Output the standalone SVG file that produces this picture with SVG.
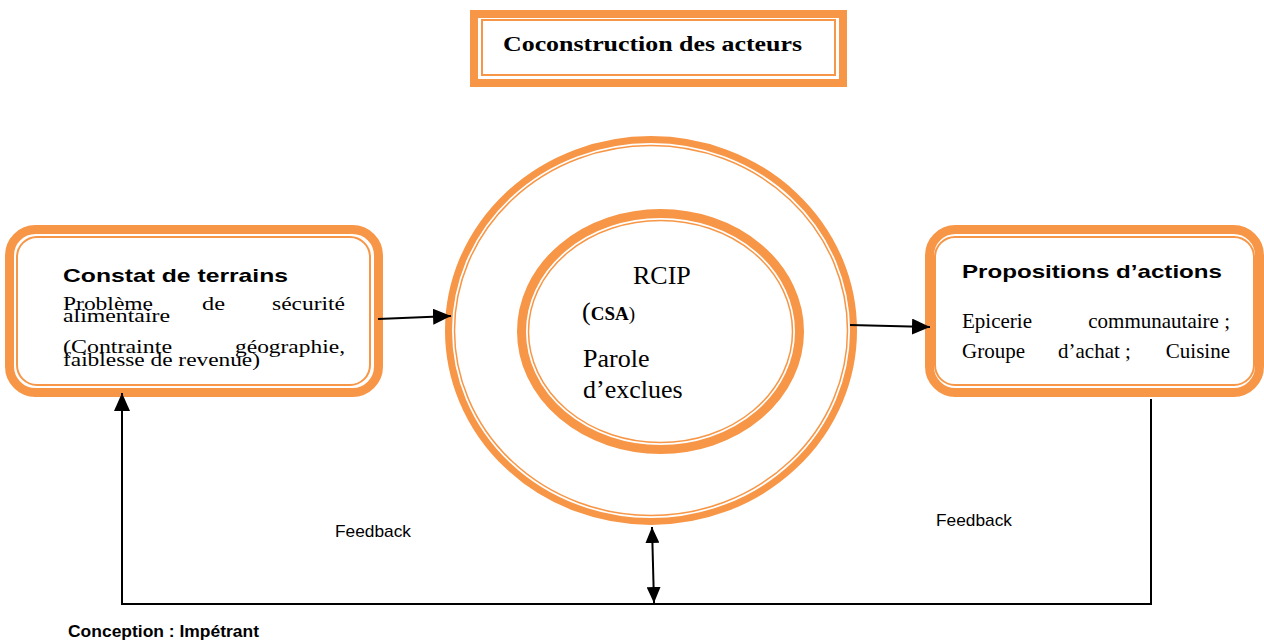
<svg xmlns="http://www.w3.org/2000/svg" width="1264" height="642" viewBox="0 0 1264 642">
  <defs>
    <style>
      .band { fill: none; stroke: #F79646; }
      .thick { stroke-width: 9; }
      .thin { stroke-width: 2; }
      .serif { font-family: "Liberation Serif", "Times New Roman", serif; fill: #000; }
      .sans { font-family: "Liberation Sans", Arial, sans-serif; fill: #000; }
      .head { font-family: "Liberation Sans", Arial, sans-serif; font-weight: bold; font-size: 19px; fill: #000; }
      .body { font-size: 19px; }
      .prop { font-size: 21px; }
      .circ { font-size: 26px; }
      .link { fill: none; stroke: #000; stroke-width: 2; }
      .note { font-size: 17px; }
    </style>
    <marker id="arrow" markerUnits="userSpaceOnUse" markerWidth="18" markerHeight="16" refX="18" refY="8" orient="auto-start-reverse">
      <path d="M0,0 L18,8 L0,16 z" fill="#000"/>
    </marker>
    <marker id="arrowSmall" markerUnits="userSpaceOnUse" markerWidth="16" markerHeight="14" refX="16" refY="7" orient="auto-start-reverse">
      <path d="M0,0 L16,7 L0,14 z" fill="#000"/>
    </marker>
  </defs>

  <rect width="1264" height="642" fill="#fff"/>

  <!-- Title banner -->
  <g id="title">
    <rect class="band" x="474" y="14" width="369" height="69" stroke-width="8"/>
    <rect class="band thin" x="482" y="20" width="353" height="55"/>
    <text class="serif" x="503" y="51" font-size="20" font-weight="bold" textLength="299" lengthAdjust="spacingAndGlyphs">Coconstruction des acteurs</text>
  </g>

  <!-- Left box: field observations -->
  <g id="constat">
    <rect class="band thick" x="9.5" y="229.5" width="369" height="163" rx="26"/>
    <rect class="band thin" x="17" y="237" width="353" height="148" rx="20"/>
    <text class="head" x="63" y="282" textLength="225" lengthAdjust="spacingAndGlyphs">Constat de terrains</text>
    <g class="serif body">
      <text x="63" y="310" textLength="90" lengthAdjust="spacingAndGlyphs">Problème</text>
      <text x="202" y="310" textLength="23" lengthAdjust="spacingAndGlyphs">de</text>
      <text x="272" y="310" textLength="73" lengthAdjust="spacingAndGlyphs">sécurité</text>
      <text x="63" y="322" textLength="107" lengthAdjust="spacingAndGlyphs">alimentaire</text>
      <text x="63" y="353" textLength="109" lengthAdjust="spacingAndGlyphs">(Contrainte</text>
      <text x="235" y="353" textLength="110" lengthAdjust="spacingAndGlyphs">géographie,</text>
      <text x="63" y="366" textLength="197" lengthAdjust="spacingAndGlyphs">faiblesse de revenue)</text>
    </g>
  </g>

  <!-- Central rings -->
  <g id="rcip">
    <ellipse class="band" cx="651" cy="330.5" rx="202.5" ry="191" stroke-width="7"/>
    <ellipse class="band" cx="651" cy="330.5" rx="196.5" ry="185" stroke-width="1.5"/>
    <ellipse class="band thick" cx="660.5" cy="331.5" rx="139" ry="118"/>
    <ellipse class="band" cx="660.5" cy="331.5" rx="132" ry="111" stroke-width="1.5"/>
    <text class="serif circ" x="633" y="284">RCIP</text>
    <text class="serif" x="582" y="320"><tspan font-size="26">(</tspan><tspan font-size="19" font-weight="bold">CSA</tspan><tspan font-size="19">)</tspan></text>
    <text class="serif circ" x="583" y="367">Parole</text>
    <text class="serif circ" x="583" y="398">d’exclues</text>
  </g>

  <!-- Right box: proposed actions -->
  <g id="propositions">
    <rect class="band thick" x="929.5" y="229.5" width="330" height="163" rx="26"/>
    <rect class="band thin" x="935" y="237" width="319" height="148" rx="20"/>
    <text class="head" x="962" y="278" textLength="260" lengthAdjust="spacingAndGlyphs">Propositions d’actions</text>
    <g class="serif prop">
      <text x="962" y="328">Epicerie</text>
      <text x="1230" y="328" text-anchor="end">communautaire ;</text>
      <text x="962" y="358">Groupe</text>
      <text x="1058" y="358">d’achat ;</text>
      <text x="1230" y="358" text-anchor="end">Cuisine</text>
    </g>
  </g>

  <!-- Connectors -->
  <g id="connectors">
    <path class="link" d="M378,319 L451,316" marker-end="url(#arrow)"/>
    <path class="link" d="M850,325 L930,327" marker-end="url(#arrow)"/>
    <path class="link" d="M1151,399 L1151,604 L122,604 L122,393" marker-end="url(#arrow)"/>
    <path class="link" d="M652,527 L654,603" marker-start="url(#arrowSmall)" marker-end="url(#arrowSmall)"/>
  </g>

  <!-- Loop labels and credit -->
  <g id="labels">
    <text class="sans note" x="335" y="537" textLength="76" lengthAdjust="spacingAndGlyphs">Feedback</text>
    <text class="sans note" x="936" y="526" textLength="76" lengthAdjust="spacingAndGlyphs">Feedback</text>
    <text class="sans note" x="68" y="637" font-weight="bold" textLength="191" lengthAdjust="spacingAndGlyphs">Conception : Impétrant</text>
  </g>
</svg>
